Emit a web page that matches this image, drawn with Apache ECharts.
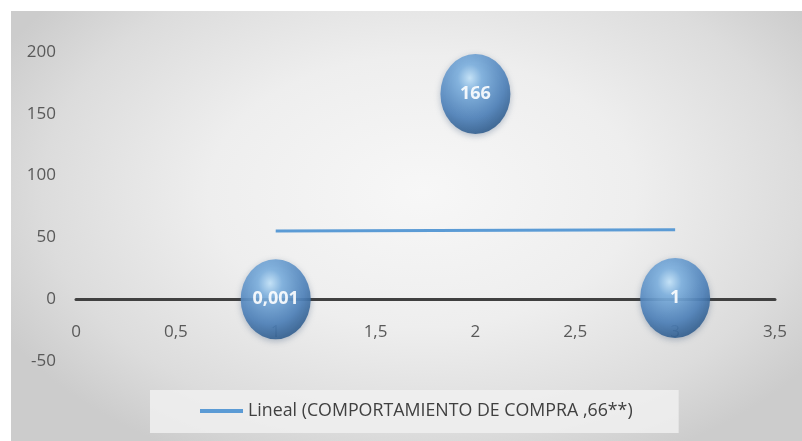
<!DOCTYPE html>
<html>
<head>
<meta charset="utf-8">
<script src="https://cdn.jsdelivr.net/npm/echarts@6/dist/echarts.min.js"></script>
<style>
  html, body { margin: 0; padding: 0; background: #ffffff; }
  #chart {
    position: absolute; left: 11px; top: 11px; width: 791px; height: 430px;
    background: radial-gradient(ellipse 60% 70% at 52% 42%, #f7f7f7 0%, #eeeeee 45%, #dcdcdc 80%, #cccccc 100%);
  }
</style>
</head>
<body>
<div id="chart"></div>
<script>
// Data
const bubbleX = [1, 2, 3];
const bubbleY = [0.001, 166, 1];
const bubbleLabels = ['0,001', '166', '1'];
const trendX = [1, 3];
const trendY = [55.2, 56.2];
const trendName = 'Lineal (COMPORTAMIENTO DE COMPRA ,66**)';
const xTicks = [0, 0.5, 1, 1.5, 2, 2.5, 3, 3.5];
const yTicks = [-50, 0, 50, 100, 150, 200];

const fmt = v => String(v).replace('.', ',');

const chart = echarts.init(document.getElementById('chart'), null, { renderer: 'canvas' });

const sphere = {
  type: 'radial', x: 0.42, y: 0.3, r: 0.78,
  colorStops: [
    { offset: 0, color: '#c6e6fc' },
    { offset: 0.22, color: '#7fb2e0' },
    { offset: 0.65, color: '#4f82ba' },
    { offset: 1, color: '#28527f' }
  ]
};

const gridTop = 41, gridBottom = 80, chartH = 430;
const plotH = chartH - gridTop - gridBottom;
const yMin = yTicks[0], yMax = yTicks[yTicks.length - 1];
// shift the x axis (line + labels) up to the y = 0 position
const xAxisOffset = -plotH * (0 - yMin) / (yMax - yMin);

chart.setOption({
  animation: false,
  grid: { left: 65, right: 27, top: gridTop, bottom: gridBottom, containLabel: false },
  xAxis: {
    type: 'value', min: xTicks[0], max: xTicks[xTicks.length - 1], interval: 0.5,
    position: 'bottom',
    offset: xAxisOffset,
    splitLine: { show: false },
    axisTick: { show: false },
    axisLine: { show: true, onZero: false, lineStyle: { color: '#404040', width: 3 } },
    axisLabel: {
      margin: 24, color: '#595959', fontSize: 17, fontFamily: 'Open Sans',
      formatter: v => fmt(v)
    }
  },
  yAxis: {
    type: 'value', min: yMin, max: yMax, interval: 50,
    splitLine: { show: false },
    axisTick: { show: false },
    axisLine: { show: false },
    axisLabel: {
      margin: 20, color: '#595959', fontSize: 17, fontFamily: 'Open Sans',
      formatter: v => fmt(v)
    }
  },
  legend: {
    left: 139, top: 379,
    padding: [12, 46, 13, 50],
    backgroundColor: 'rgba(240,240,240,0.85)',
    itemWidth: 43, itemHeight: 4,
    textStyle: { color: '#404040', fontSize: 17.8, fontFamily: 'Open Sans' },
    data: [{ name: trendName, icon: 'rect' }]
  },
  series: [
    {
      type: 'scatter',
      name: 'bubbles',
      data: bubbleX.map((x, i) => [x, bubbleY[i]]),
      symbol: 'circle',
      symbolSize: [70, 80],
      itemStyle: {
        color: sphere, opacity: 0.9,
        shadowBlur: 6, shadowColor: 'rgba(40,70,110,0.35)', shadowOffsetY: 2
      },
      label: {
        show: true, position: 'inside',
        formatter: p => bubbleLabels[p.dataIndex],
        color: '#ffffff', fontWeight: 'bold', fontSize: 18, fontFamily: 'Open Sans'
      },
      z: 3
    },
    {
      type: 'line',
      name: trendName,
      data: trendX.map((x, i) => [x, trendY[i]]),
      showSymbol: false,
      lineStyle: { color: '#5b9bd5', width: 3 },
      itemStyle: { color: '#5b9bd5' },
      z: 2
    }
  ]
});
</script>
</body>
</html>
